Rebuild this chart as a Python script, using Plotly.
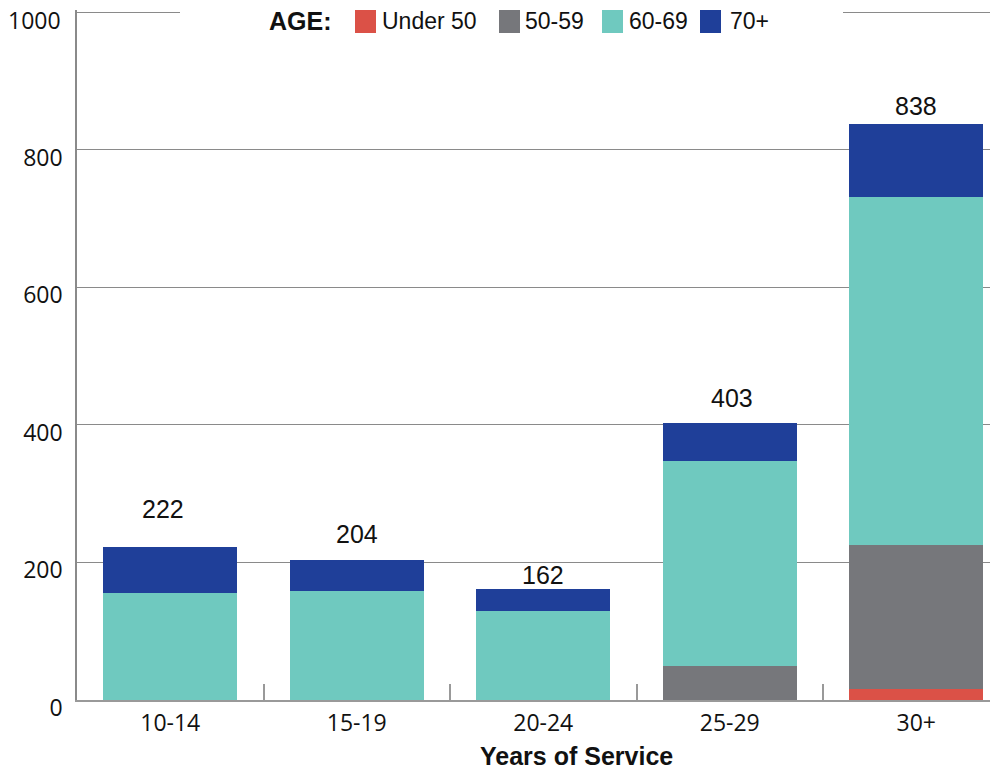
import plotly.graph_objects as go

# Years of service categories and the stacked counts per age group
years = ["10-14", "15-19", "20-24", "25-29", "30+"]
age_groups = ["Under 50", "50-59", "60-69", "70+"]
under_50 = [0, 0, 0, 0, 16]
age_50_59 = [0, 0, 0, 49, 209]
age_60_69 = [155, 158, 129, 298, 506]
age_70_plus = [67, 46, 33, 56, 107]
totals = [222, 204, 162, 403, 838]
y_ticks = [0, 200, 400, 600, 800, 1000]

colors = ["#DB5147", "#76777B", "#6FC9BF", "#1F3F99"]

# pixel nudges of the total labels above each bar (as in the original artwork)
label_yshift = [38, 26, 14, 25, 18]
label_xshift = [-7, 0, 0, 2, 0]

# page body has an 8px margin, so the figure is sized to fill the window from there
OFF = 8
W, H = 998 - OFF, 771 - OFF
ML, MR, MT, MB = 77 - OFF, 0, 10 - OFF, 71
PW = W - ML - MR
PH = H - MT - MB
Y_TOP = 1003  # a little headroom so the 1000 gridline is not clipped at the plot edge

tick_font = dict(family = "Open Sans", size = 23, color = "#111111")


def px_x(x):
	return (x - OFF - ML) / PW


def px_y(y):
	return (H - MB - (y - OFF)) / PH


fig = go.Figure()
series = [under_50, age_50_59, age_60_69, age_70_plus]
for name, vals, col in zip(age_groups, series, colors):
	fig.add_trace(go.Bar(x = years, y = vals, name = name, marker = dict(color = col, line = dict(width = 0)),
	                     showlegend = False, hoverinfo = "x+y+name"))

# totals above the bars
for i, (cat, tot) in enumerate(zip(years, totals)):
	fig.add_annotation(x = cat, y = tot, text = str(tot), showarrow = False, yanchor = "middle",
	                   xshift = label_xshift[i], yshift = label_yshift[i],
	                   font = dict(family = "Liberation Sans, Arial", size = 25, color = "#111111"))

# plotly drops the label at the very top of the axis, so write it by hand
fig.add_annotation(xref = "paper", yref = "y", x = px_x(63), y = y_ticks[-1], text = str(y_ticks[-1]),
                   showarrow = False, xanchor = "right", yanchor = "middle", yshift = -8, font = tick_font)

# hand made legend across the top
shapes = [dict(type = "rect", xref = "paper", yref = "paper", x0 = px_x(180), x1 = px_x(843),
               y0 = px_y(20), y1 = px_y(4), fillcolor = "white", line = dict(width = 0), layer = "above")]
swatch_x = [355, 499, 602, 700]
text_x = [380, 523, 627, 728]
for sx, tx, name, col in zip(swatch_x, text_x, age_groups, colors):
	shapes.append(dict(type = "rect", xref = "paper", yref = "paper", x0 = px_x(sx), x1 = px_x(sx + 21),
	                   y0 = px_y(33), y1 = px_y(10), fillcolor = col, line = dict(width = 0), layer = "above"))
	fig.add_annotation(xref = "paper", yref = "paper", x = px_x(tx), y = px_y(21), text = name,
	                   showarrow = False, xanchor = "left", yanchor = "middle",
	                   font = dict(family = "Liberation Sans, Arial", size = 23, color = "#111111"))

fig.add_annotation(xref = "paper", yref = "paper", x = px_x(267), y = px_y(21), text = "<b>AGE:</b>",
                   showarrow = False, xanchor = "left", yanchor = "middle",
                   font = dict(family = "Liberation Sans, Arial", size = 25, color = "#111111"))
fig.add_annotation(xref = "paper", yref = "paper", x = px_x(576), y = px_y(756), text = "<b>Years of Service</b>",
                   showarrow = False, xanchor = "center", yanchor = "middle",
                   font = dict(family = "Liberation Sans, Arial", size = 25, color = "#111111"))

fig.update_layout(
	width = W, height = H,
	margin = dict(l = ML, r = MR, t = MT, b = MB, pad = 0),
	paper_bgcolor = "white", plot_bgcolor = "white",
	barmode = "stack", bargap = 0.28,
	shapes = shapes,
	xaxis = dict(type = "category", range = [-0.5, -0.5 + PW / 186.5], tickson = "boundaries",
	             ticks = "inside", ticklen = 16, tickwidth = 1.5, tickcolor = "#999999",
	             showline = True, linecolor = "#999999", linewidth = 1.5, showgrid = False,
	             ticklabelstandoff = 2, tickfont = tick_font),
	yaxis = dict(range = [0, Y_TOP], tickvals = y_ticks, showgrid = True, gridcolor = "#8a8a8a", gridwidth = 1,
	             zeroline = False, showline = True, linecolor = "#8a8a8a", linewidth = 1.5, ticks = "",
	             ticklabelstandoff = 8, ticklabelshift = 8, tickfont = tick_font),
)

fig.write_html("out.html")
